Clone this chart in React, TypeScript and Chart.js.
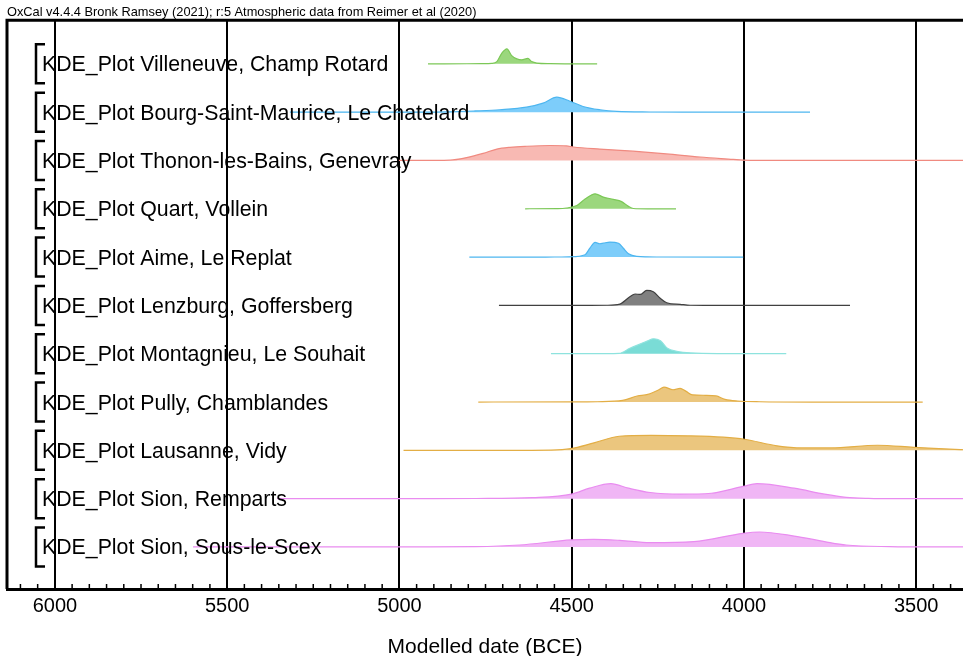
import React, { useEffect, useRef } from "react";
import { Chart, registerables } from "chart.js";

Chart.register(...registerables);

const headerText = "OxCal v4.4.4 Bronk Ramsey (2021); r:5 Atmospheric data from Reimer et al (2020)";
const axisTitle = "Modelled date (BCE)";
const tickValues = [6000, 5500, 5000, 4500, 4000, 3500];

const rowLabels = [
  "KDE_Plot Villeneuve, Champ Rotard",
  "KDE_Plot Bourg-Saint-Maurice, Le Chatelard",
  "KDE_Plot Thonon-les-Bains, Genevray",
  "KDE_Plot Quart, Vollein",
  "KDE_Plot Aime, Le Replat",
  "KDE_Plot Lenzburg, Goffersberg",
  "KDE_Plot Montagnieu, Le Souhait",
  "KDE_Plot Pully, Chamblandes",
  "KDE_Plot Lausanne, Vidy",
  "KDE_Plot Sion, Remparts",
  "KDE_Plot Sion, Sous-le-Scex",
];

const villeneuveYears = [4917, 4804, 4760, 4732, 4717, 4703, 4688, 4674, 4659, 4645, 4627, 4616, 4601, 4563, 4500, 4426];
const villeneuveDensity = [0, 0.005, 0.01, 0.03, 0.15, 0.7, 1, 0.55, 0.33, 0.27, 0.36, 0.15, 0.05, 0.01, 0, 0];

const bourgYears = [5318, 4950, 4853, 4780, 4708, 4631, 4583, 4543, 4505, 4467, 4418, 4369, 4272, 4150, 3808];
const bourgDensity = [0, 0.002, 0.02, 0.08, 0.16, 0.33, 0.6, 1, 0.73, 0.38, 0.16, 0.05, 0.01, 0, 0];

const thononYears = [5004, 4900, 4853, 4805, 4757, 4717, 4679, 4631, 4563, 4515, 4495, 4418, 4322, 4225, 4127, 4031, 4002, 3900, 3364];
const thononDensity = [0, 0.005, 0.02, 0.19, 0.47, 0.76, 0.88, 0.95, 1, 0.97, 0.9, 0.76, 0.62, 0.44, 0.23, 0.07, 0.02, 0, 0];

const quartYears = [4635, 4540, 4515, 4485, 4461, 4432, 4408, 4379, 4355, 4335, 4321, 4280, 4197];
const quartDensity = [0, 0.01, 0.05, 0.22, 0.65, 1, 0.78, 0.63, 0.48, 0.16, 0.02, 0, 0];

const aimeYears = [4797, 4550, 4505, 4461, 4447, 4432, 4418, 4408, 4389, 4364, 4350, 4335, 4311, 4250, 4002];
const aimeDensity = [0, 0.005, 0.02, 0.16, 0.6, 0.98, 0.89, 0.93, 1, 0.92, 0.59, 0.22, 0.05, 0.005, 0];

const lenzburgYears = [4711, 4450, 4398, 4360, 4330, 4316, 4301, 4282, 4263, 4243, 4224, 4185, 4156, 4100, 3692];
const lenzburgDensity = [0, 0.002, 0.01, 0.09, 0.6, 0.76, 0.73, 1, 0.91, 0.48, 0.18, 0.07, 0.01, 0, 0];

const montagnieuYears = [4560, 4400, 4362, 4331, 4300, 4279, 4263, 4242, 4222, 4195, 4154, 4060, 3877];
const montagnieuDensity = [0, 0.002, 0.02, 0.36, 0.66, 0.86, 1, 0.86, 0.36, 0.16, 0.05, 0.01, 0];

const pullyYears = [4771, 4500, 4425, 4352, 4310, 4279, 4248, 4232, 4206, 4185, 4169, 4149, 4112, 4081, 4055, 4018, 3956, 3800, 3481];
const pullyDensity = [0, 0.005, 0.02, 0.11, 0.4, 0.51, 0.8, 1, 0.82, 0.91, 0.73, 0.48, 0.45, 0.41, 0.18, 0.07, 0.02, 0, 0];

const lausanneYears = [4988, 4700, 4560, 4503, 4435, 4362, 4269, 4164, 4060, 3998, 3904, 3831, 3747, 3612, 3507, 3372, 3364];
const lausanneDensity = [0, 0.002, 0.02, 0.11, 0.5, 0.94, 1, 0.97, 0.88, 0.74, 0.3, 0.16, 0.16, 0.34, 0.2, 0.05, 0.04];

const rempartsYears = [5355, 4900, 4778, 4613, 4500, 4448, 4386, 4335, 4272, 4183, 4095, 4002, 3962, 3854, 3766, 3703, 3639, 3550, 3364];
const rempartsDensity = [0, 0.002, 0.01, 0.07, 0.3, 0.7, 1, 0.7, 0.41, 0.3, 0.36, 0.82, 1, 0.7, 0.3, 0.09, 0.02, 0, 0];

const sousYears = [5599, 4950, 4778, 4651, 4500, 4436, 4360, 4272, 4145, 4002, 3955, 3854, 3766, 3703, 3577, 3450, 3364];
const sousDensity = [0, 0.004, 0.02, 0.13, 0.47, 0.51, 0.44, 0.29, 0.36, 0.91, 1, 0.73, 0.36, 0.13, 0.02, 0, 0];

const fillColors = ["#9bd77d", "#7dcdfa", "#f8b9b3", "#9bd77d", "#7dcdfa", "#808080", "#7adcd6", "#ebc67e", "#ebc67e", "#f0b6f5", "#f0b6f5"];
const lineColors = ["#7cc857", "#4db6f0", "#f08a80", "#7cc857", "#4db6f0", "#404040", "#8ee3de", "#e3ae45", "#e3ae45", "#e98cf0", "#e98cf0"];

const seriesYears = [villeneuveYears, bourgYears, thononYears, quartYears, aimeYears, lenzburgYears, montagnieuYears, pullyYears, lausanneYears, rempartsYears, sousYears];
const seriesDensity = [villeneuveDensity, bourgDensity, thononDensity, quartDensity, aimeDensity, lenzburgDensity, montagnieuDensity, pullyDensity, lausanneDensity, rempartsDensity, sousDensity];

const X_MIN = 3364;
const X_MAX = 6139;
const ROW_TOP = 10.87;
const Y_MAX = 11.77;
const PEAK = 0.31;

export default function App() {
  const ref = useRef<HTMLCanvasElement | null>(null);

  useEffect(() => {
    if (!ref.current) return;
    const FONT = "'Liberation Sans', Arial, Helvetica, sans-serif";
    const bases = rowLabels.map((_, i) => ROW_TOP - i);

    const datasets = rowLabels.map((label, i) => ({
      label,
      data: seriesYears[i].map((yr, k) => ({ x: yr, y: bases[i] + seriesDensity[i][k] * PEAK })),
      borderColor: lineColors[i],
      backgroundColor: fillColors[i],
      borderWidth: 1.2,
      pointRadius: 0,
      cubicInterpolationMode: "monotone" as const,
      fill: { value: bases[i] },
    }));

    const decor = {
      id: "decor",
      afterDraw(chart: any) {
        const { ctx, chartArea } = chart;
        const xs = chart.scales.x;
        const ys = chart.scales.y;
        ctx.save();
        ctx.strokeStyle = "#000";
        // top and left borders
        ctx.lineWidth = 3;
        ctx.beginPath();
        ctx.moveTo(chartArea.left - 1.5, chartArea.top);
        ctx.lineTo(chartArea.right, chartArea.top);
        ctx.moveTo(chartArea.left, chartArea.top);
        ctx.lineTo(chartArea.left, chartArea.bottom);
        ctx.stroke();
        // minor ticks
        ctx.lineWidth = 1.5;
        ctx.beginPath();
        for (let v = 3400; v <= 6100; v += 50) {
          if (v % 500 === 0) continue;
          const px = xs.getPixelForValue(v);
          ctx.moveTo(px, chartArea.bottom);
          ctx.lineTo(px, chartArea.bottom - 5);
        }
        ctx.stroke();
        // row labels and brackets
        ctx.font = `21.3px ${FONT}`;
        ctx.fillStyle = "#000";
        ctx.textBaseline = "alphabetic";
        ctx.textAlign = "left";
        rowLabels.forEach((lab, i) => {
          const py = ys.getPixelForValue(bases[i]);
          ctx.lineWidth = 2.5;
          ctx.beginPath();
          ctx.moveTo(45, py - 19.5);
          ctx.lineTo(36, py - 19.5);
          ctx.lineTo(36, py + 19.5);
          ctx.lineTo(45, py + 19.5);
          ctx.stroke();
          ctx.fillText(lab, 42, py + 7.5);
        });
        ctx.restore();
      },
    };

    const chart = new Chart(ref.current, {
      type: "line",
      data: { datasets },
      options: {
        animation: false,
        responsive: false,
        maintainAspectRatio: false,
        layout: { padding: { left: 7, right: 0, top: 0, bottom: 0 } },
        plugins: {
          legend: { display: false },
          tooltip: { enabled: false },
          title: {
            display: true,
            text: headerText,
            align: "start",
            color: "#000",
            font: { family: FONT, size: 12.8, weight: "normal" },
            padding: { top: 5, bottom: 0 },
          },
        },
        scales: {
          x: {
            type: "linear",
            reverse: true,
            min: X_MIN,
            max: X_MAX,
            z: 1,
            afterBuildTicks: (scale: any) => {
              scale.ticks = tickValues.map((v) => ({ value: v }));
            },
            afterFit: (scale: any) => {
              scale.height = 67;
            },
            grid: { color: "#000", lineWidth: 2, drawTicks: false, drawOnChartArea: true },
            border: { display: true, color: "#000", width: 3 },
            ticks: {
              color: "#000",
              font: { family: FONT, size: 20 },
              padding: 5,
              maxRotation: 0,
              autoSkip: false,
              callback: (v: any) => String(v),
            },
            title: {
              display: true,
              text: axisTitle,
              color: "#000",
              font: { family: FONT, size: 21 },
              padding: { top: -4, bottom: -4 },
            },
          },
          y: {
            type: "linear",
            display: false,
            min: 0,
            max: Y_MAX,
          },
        },
      },
      plugins: [decor],
    });
    return () => chart.destroy();
  }, []);

  return (
    <div style={{ position: "fixed", left: 0, top: 0, width: 963, height: 656, background: "#fff" }}>
      <canvas ref={ref} width={963} height={656} />
    </div>
  );
}
